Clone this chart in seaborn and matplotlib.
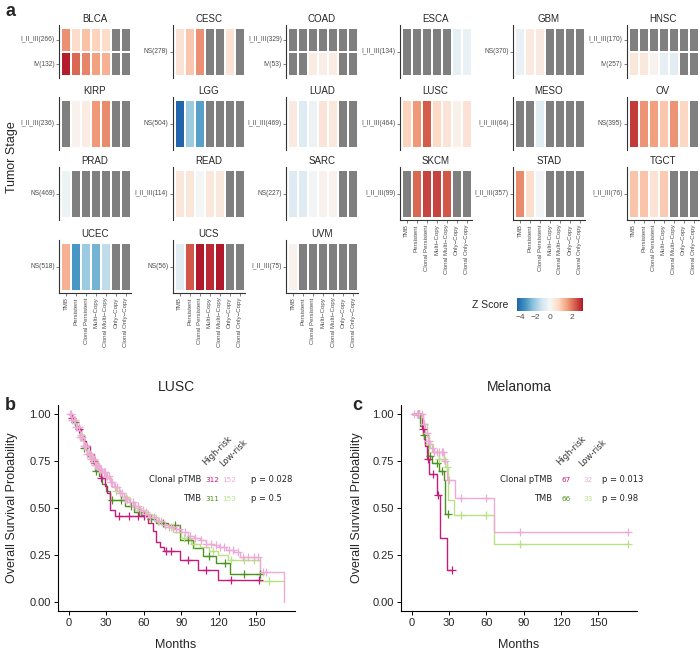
import numpy as np
import pandas as pd
import matplotlib
matplotlib.use("Agg")
import matplotlib.pyplot as plt
import seaborn as sns
from matplotlib.colors import TwoSlopeNorm, ListedColormap
from matplotlib.cm import ScalarMappable

na = np.nan

# ---------------- panel a data ----------------
features = ["TMB", "Persistent", "Clonal Persistent", "Multi\u2212Copy",
            "Clonal Multi\u2212Copy", "Only\u2212Copy", "Clonal Only\u2212Copy"]

cancer_types = ["BLCA", "CESC", "COAD", "ESCA", "GBM", "HNSC",
                "KIRP", "LGG", "LUAD", "LUSC", "MESO", "OV",
                "PRAD", "READ", "SARC", "SKCM", "STAD", "TGCT",
                "UCEC", "UCS", "UVM"]

stage_labels = [["I_II_III(266)", "IV(132)"], ["NS(278)"], ["I_II_III(329)", "IV(53)"],
                ["I_II_III(134)"], ["NS(370)"], ["I_II_III(170)", "IV(257)"],
                ["I_II_III(236)"], ["NS(504)"], ["I_II_III(469)"],
                ["I_II_III(464)"], ["I_II_III(64)"], ["NS(395)"],
                ["NS(469)"], ["I_II_III(114)"], ["NS(227)"],
                ["I_II_III(99)"], ["I_II_III(357)"], ["I_II_III(76)"],
                ["NS(518)"], ["NS(56)"], ["I_II_III(75)"]]

z_scores = [
    [[1.7, 0.7, 1.1, 0.85, 0.7, na, na], [2.9, 2.1, 1.8, 1.5, 1.3, na, na]],   # BLCA
    [[0.55, 1.0, 1.7, na, na, 0.55, na]],                                      # CESC
    [[na, na, na, na, na, na, na], [na, na, 0.3, 0.25, 0.3, na, na]],          # COAD
    [[na, na, na, na, na, -0.5, -0.35]],                                       # ESCA
    [[-0.4, 0.35, 0.35, na, na, na, na]],                                      # GBM
    [[na, na, na, na, na, na, na], [0.45, 0.4, 0.15, -0.5, -0.6, na, na]],     # HNSC
    [[na, 0.15, 0.3, 1.6, 1.75, na, na]],                                      # KIRP
    [[-4.4, -2.0, -3.0, na, na, na, na]],                                      # LGG
    [[0.35, -0.7, -0.3, 0.5, 0.4, na, na]],                                    # LUAD
    [[0.85, 1.6, 2.25, 0.75, 0.5, 0.2, 0.55]],                                 # LUSC
    [[na, na, -0.6, na, na, na, na]],                                          # MESO
    [[2.6, 1.65, 1.5, 1.0, 1.65, 0.8, na]],                                    # OV
    [[-0.3, na, na, na, na, na, na]],                                          # PRAD
    [[0.45, 0.45, -0.1, 0.4, 0.4, na, na]],                                    # READ
    [[-0.7, -0.7, -0.15, 0.15, 0.15, na, na]],                                 # SARC
    [[na, 2.1, 2.5, 2.5, 2.3, na, na]],                                        # SKCM
    [[1.75, 0.65, -0.15, na, na, na, na]],                                     # STAD
    [[1.05, 1.05, 0.55, 0.95, na, na, na]],                                    # TGCT
    [[1.3, -3.2, -2.0, -2.6, -1.4, na, na]],                                   # UCEC
    [[-0.6, 2.3, 2.95, 2.75, 2.95, na, na]],                                   # UCS
    [[0.15, na, na, na, na, na, na]],                                          # UVM
]

# ---------------- panel b / c data (KM step points) ----------------
lusc_pt_hi_t = [0, 2, 4, 6, 8, 10, 12, 14, 17, 20, 23, 26, 29, 31, 33, 37, 63, 67, 70, 73, 76, 89, 103, 119, 152]
lusc_pt_hi_s = [1.0, 0.98, 0.96, 0.94, 0.92, 0.89, 0.86, 0.83, 0.79, 0.75, 0.71, 0.66, 0.62, 0.58, 0.49, 0.455, 0.42, 0.375, 0.32, 0.29, 0.27, 0.225, 0.17, 0.115, 0.115]
lusc_pt_hi_c = [3, 8, 14, 20, 26, 40, 48, 55, 60, 78, 82, 95, 110, 130, 152]

lusc_pt_lo_t = [0, 3, 6, 9, 12, 15, 18, 21, 24, 27, 30, 33, 36, 40, 44, 48, 52, 56, 60, 65, 70, 75, 80, 85, 90, 95, 100, 105, 110, 115, 120, 126, 132, 137, 153, 172]
lusc_pt_lo_s = [1.0, 0.97, 0.93, 0.88, 0.83, 0.79, 0.76, 0.73, 0.71, 0.69, 0.67, 0.64, 0.61, 0.58, 0.55, 0.53, 0.51, 0.49, 0.47, 0.45, 0.43, 0.41, 0.40, 0.39, 0.37, 0.35, 0.34, 0.33, 0.31, 0.30, 0.29, 0.275, 0.265, 0.24, 0.16, 0.0]
lusc_pt_lo_c = [1, 2, 3, 4, 5, 6, 7, 8, 9, 10, 11, 12, 13, 14, 15, 16, 17, 18, 19, 20, 21, 22, 23, 24,
                25, 26, 27, 28, 29, 30, 31, 32, 34, 35, 37, 39, 41, 43, 45, 47, 49, 51, 53, 55, 57,
                59, 61, 63, 65, 68, 71, 74, 77, 80, 83, 86, 88, 93, 97, 101, 106, 110, 114, 118, 121,
                124, 128, 131, 135, 139, 143, 148, 151, 155, 158]

lusc_tmb_hi_t = [0, 3, 6, 9, 12, 15, 18, 21, 24, 27, 30, 33, 45, 52, 58, 63, 70, 79, 89, 99, 107, 118, 129, 153]
lusc_tmb_hi_s = [1.0, 0.96, 0.92, 0.87, 0.82, 0.78, 0.74, 0.70, 0.67, 0.63, 0.59, 0.545, 0.51, 0.48, 0.46, 0.44, 0.42, 0.41, 0.33, 0.285, 0.245, 0.205, 0.145, 0.145]
lusc_tmb_hi_c = [5, 12, 22, 35, 42, 50, 56, 66, 75, 85, 95, 112, 125, 140, 153]

lusc_tmb_lo_t = [0, 3, 6, 9, 12, 15, 18, 21, 24, 27, 30, 34, 38, 43, 48, 53, 58, 63, 70, 76, 83, 90, 98, 105, 112, 119, 127, 153, 172]
lusc_tmb_lo_s = [1.0, 0.97, 0.93, 0.89, 0.84, 0.80, 0.77, 0.74, 0.71, 0.69, 0.66, 0.62, 0.59, 0.56, 0.53, 0.50, 0.48, 0.46, 0.43, 0.40, 0.37, 0.34, 0.31, 0.29, 0.27, 0.25, 0.22, 0.11, 0.11]
lusc_tmb_lo_c = [4, 10, 18, 28, 38, 46, 55, 62, 72, 82, 92, 100, 115, 130, 140, 148, 160]

mel_pt_hi_t = [0, 8, 10, 11, 12, 14, 20, 23, 28, 32.5]
mel_pt_hi_s = [1.0, 0.92, 0.87, 0.83, 0.76, 0.68, 0.57, 0.34, 0.17, 0.17]
mel_pt_hi_c = [6, 9, 13, 17, 21, 32.5]

mel_pt_lo_t = [0, 9, 11, 13, 15, 17, 26, 28, 35, 66, 174]
mel_pt_lo_s = [1.0, 0.95, 0.90, 0.86, 0.82, 0.80, 0.75, 0.65, 0.555, 0.37, 0.37]
mel_pt_lo_c = [2, 4, 6, 8, 10, 12, 13, 14, 16, 18, 20, 22, 24, 25, 27, 30, 40, 60, 87, 174]

mel_tmb_hi_t = [0, 7, 9, 11, 13, 16, 22, 26, 27, 29]
mel_tmb_hi_s = [1.0, 0.94, 0.89, 0.84, 0.78, 0.74, 0.70, 0.65, 0.47, 0.47]
mel_tmb_hi_c = [5, 10, 15, 20, 24, 29]

mel_tmb_lo_t = [0, 9, 12, 14, 17, 22, 27, 29, 34, 66, 174]
mel_tmb_lo_s = [1.0, 0.95, 0.89, 0.84, 0.80, 0.76, 0.72, 0.545, 0.465, 0.31, 0.31]
mel_tmb_lo_c = [5, 10, 14, 18, 22, 26, 28, 40, 60, 87, 174]

lusc_counts = ["312", "152", "311", "153"]
lusc_pvals = ["p = 0.028", "p = 0.5"]
mel_counts = ["67", "32", "66", "33"]
mel_pvals = ["p = 0.013", "p = 0.98"]

# ---------------- style ----------------
sns.set_style("ticks")
plt.rcParams["font.family"] = ["Liberation Sans", "DejaVu Sans"]

c_pt_hi, c_pt_lo = "#c51b7d", "#eeaad6"
c_tmb_hi, c_tmb_lo = "#4d9221", "#b8e186"
na_grey = "#7f7f7f"
txt_grey = "#4d4d4d"

zcmap = sns.blend_palette(["#2166ac", "#4393c3", "#92c5de", "#d1e5f0", "#f7f7f7",
                           "#fddbc7", "#f4a582", "#d6604d", "#b2182b"], as_cmap=True)
znorm = TwoSlopeNorm(vmin=-4.4, vcenter=0, vmax=2.95)

W, H = 700, 652
fig = plt.figure(figsize=(7, 6.52), dpi=100)


def px_axes(x, y, w, h):
    return fig.add_axes([x / W, 1 - (y + h) / H, w / W, h / H])


# ---------------- panel a ----------------
col_left = [59, 172.5, 286, 399.5, 513, 626.5]
row_top = [25, 97, 167, 240]
n = len(cancer_types)
for i, name in enumerate(cancer_types):
    r, c = divmod(i, 6)
    ax = px_axes(col_left[c], row_top[r], 72, 53)
    df = pd.DataFrame(z_scores[i], index=stage_labels[i], columns=features)
    nrow = len(df)
    missing = df.isna()
    sns.heatmap(missing.astype(float), mask=~missing, cmap=ListedColormap([na_grey]),
                cbar=False, linewidths=1.1, linecolor="white", ax=ax)
    sns.heatmap(df, cmap=zcmap, norm=znorm, cbar=False,
                linewidths=1.1, linecolor="white", ax=ax)
    ax.set_xlim(-0.2, 7.0)
    ax.set_ylim(nrow + 0.04 * nrow, -0.06 * nrow)
    ax.set_title(name, fontsize=7, pad=2.5)
    ax.set_xlabel("")
    ax.set_ylabel("")
    ax.spines["left"].set_visible(True)
    ax.spines["left"].set_color("#333333")
    ax.spines["left"].set_linewidth(0.8)
    ax.set_yticks(np.arange(nrow) + 0.5)
    ax.set_yticklabels(stage_labels[i], rotation=0, fontsize=4.8, color=txt_grey)
    ax.tick_params(axis="y", length=2, width=0.5, color=txt_grey, pad=1)
    bottom = i + 6 >= n
    if bottom:
        ax.spines["bottom"].set_visible(True)
        ax.spines["bottom"].set_color("#333333")
        ax.spines["bottom"].set_linewidth(0.8)
        ax.set_xticks(np.arange(7) + 0.5)
        ax.set_xticklabels(features, rotation=90, fontsize=4.4, color=txt_grey)
        ax.tick_params(axis="x", length=2, width=0.5, color=txt_grey, pad=1)
    else:
        ax.set_xticks([])

fig.text(12 / W, 1 - 157 / H, "Tumor Stage", rotation=90, fontsize=9,
         ha="center", va="center")
fig.text(5 / W, 1 - 11 / H, "a", fontsize=13, fontweight="bold", va="center")

cax = px_axes(517, 298, 66, 13)
cb = fig.colorbar(ScalarMappable(norm=znorm, cmap=zcmap), cax=cax, orientation="horizontal")
cb.outline.set_visible(False)
cb.set_ticks([-4, -2, 0, 2])
cax.tick_params(labelsize=6, length=2.5, color="white", direction="in", pad=2,
                labelcolor=txt_grey)
fig.text(508 / W, 1 - 305 / H, "Z Score", fontsize=7.5, ha="right", va="center")


# ---------------- panels b, c ----------------
def step_at(t, s, ct):
    idx = np.searchsorted(t, ct, side="right") - 1
    return np.asarray(s)[idx]


def km_panel(ax, curves, counts, pvals, xs):
    for t, s, cens, col in curves:
        sns.lineplot(x=t, y=s, drawstyle="steps-post", color=col, linewidth=1.0,
                     estimator=None, sort=False, ax=ax)
        sns.scatterplot(x=cens, y=step_at(t, s, cens), marker="+", s=30, color=col,
                        linewidth=0.9, ax=ax, zorder=3)
    ax.set_xlim(-8.6, 181)
    ax.set_ylim(-0.05, 1.05)
    ax.set_xticks([0, 30, 60, 90, 120, 150])
    ax.set_yticks([0, 0.25, 0.5, 0.75, 1.0])
    ax.set_yticklabels(["0.00", "0.25", "0.50", "0.75", "1.00"])
    ax.tick_params(labelsize=8, length=3, width=0.7, color="black", pad=2)
    for sp in ["left", "bottom"]:
        ax.spines[sp].set_linewidth(0.8)
        ax.spines[sp].set_color("black")
    sns.despine(ax=ax)
    ax.set_xlabel("")
    ax.set_ylabel("")
    # risk table text
    lab_x, n1_x, n2_x, p_x = xs
    ann = dict(transform=ax.transAxes, fontsize=6, family="DejaVu Sans", va="center")
    num = dict(transform=ax.transAxes, fontsize=5.2, family="DejaVu Sans", va="center",
               ha="center")
    ax.text(lab_x, 0.636, "Clonal pTMB", ha="right", color="#222222", **ann)
    ax.text(n1_x, 0.636, counts[0], color=c_pt_hi, **num)
    ax.text(n2_x, 0.636, counts[1], color=c_pt_lo, **num)
    ax.text(p_x, 0.636, pvals[0], ha="left", color="#222222", **ann)
    ax.text(lab_x, 0.544, "TMB", ha="right", color="#222222", **ann)
    ax.text(n1_x, 0.544, counts[2], color=c_tmb_hi, **num)
    ax.text(n2_x, 0.544, counts[3], color=c_tmb_lo, **num)
    ax.text(p_x, 0.544, pvals[1], ha="left", color="#222222", **ann)
    ax.text(n1_x - 0.02, 0.70, "High-risk", rotation=45, rotation_mode="anchor",
            ha="left", va="bottom", fontsize=6, family="DejaVu Sans", color="#333333",
            transform=ax.transAxes)
    ax.text(n2_x - 0.02, 0.69, "Low-risk", rotation=45, rotation_mode="anchor",
            ha="left", va="bottom", fontsize=6, family="DejaVu Sans", color="#333333",
            transform=ax.transAxes)


axb = px_axes(58, 405, 237, 206)
km_panel(axb,
         [(lusc_tmb_hi_t, lusc_tmb_hi_s, lusc_tmb_hi_c, c_tmb_hi),
          (lusc_tmb_lo_t, lusc_tmb_lo_s, lusc_tmb_lo_c, c_tmb_lo),
          (lusc_pt_hi_t, lusc_pt_hi_s, lusc_pt_hi_c, c_pt_hi),
          (lusc_pt_lo_t, lusc_pt_lo_s, lusc_pt_lo_c, c_pt_lo)],
         lusc_counts, lusc_pvals, (0.606, 0.65, 0.722, 0.814))

axc = px_axes(401, 405, 236, 206)
km_panel(axc,
         [(mel_tmb_hi_t, mel_tmb_hi_s, mel_tmb_hi_c, c_tmb_hi),
          (mel_tmb_lo_t, mel_tmb_lo_s, mel_tmb_lo_c, c_tmb_lo),
          (mel_pt_hi_t, mel_pt_hi_s, mel_pt_hi_c, c_pt_hi),
          (mel_pt_lo_t, mel_pt_lo_s, mel_pt_lo_c, c_pt_lo)],
         mel_counts, mel_pvals, (0.64, 0.70, 0.792, 0.852))

for x, title in [(176, "LUSC"), (519, "Melanoma")]:
    fig.text(x / W, 1 - 387 / H, title, fontsize=10, ha="center", va="center")
    fig.text(x / W, 1 - 645 / H, "Months", fontsize=9, ha="center", va="center")
for x in [12, 357]:
    fig.text(x / W, 1 - 508 / H, "Overall Survival Probability", rotation=90,
             fontsize=9, ha="center", va="center")
fig.text(5 / W, 1 - 406 / H, "b", fontsize=13, fontweight="bold", va="center")
fig.text(352 / W, 1 - 406 / H, "c", fontsize=13, fontweight="bold", va="center")

fig.savefig("out.png", dpi=100)
